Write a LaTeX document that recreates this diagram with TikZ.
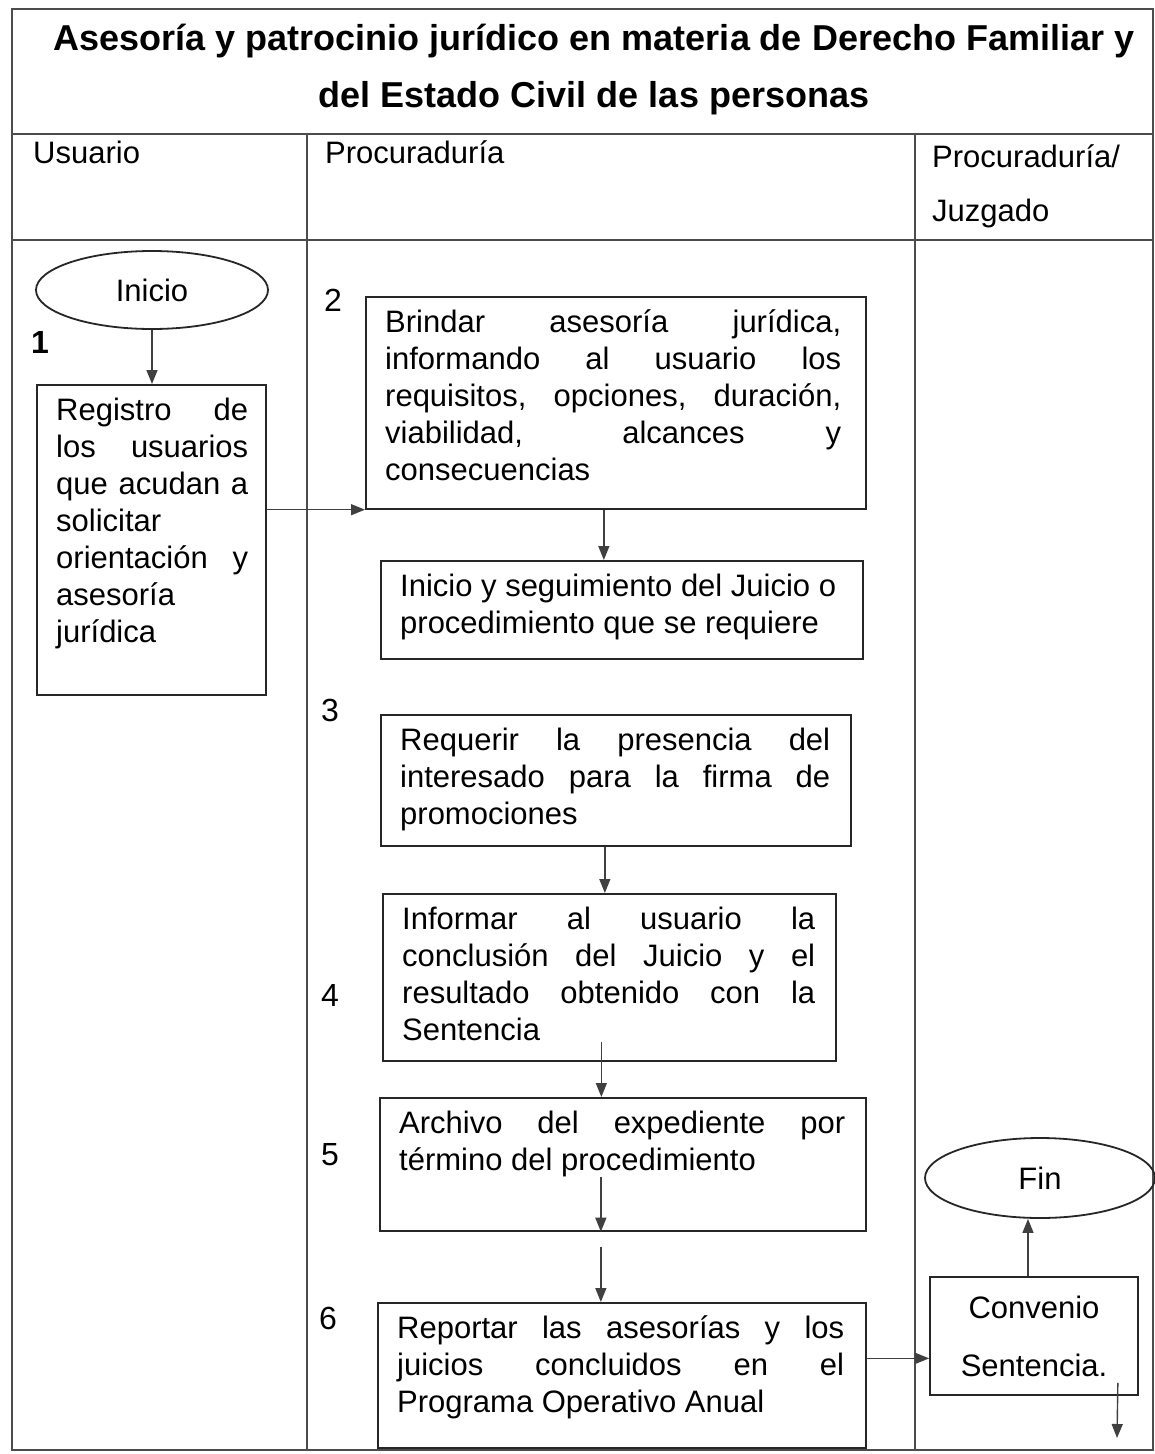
\documentclass[tikz,border=0pt]{standalone}
\usepackage{fontspec}
\setmainfont{Liberation Sans}
\usetikzlibrary{arrows.meta,shapes.geometric}

\def\fs{\fontsize{31}{37}\selectfont\tolerance=10000 }
\def\cajatexto#1#2#3{\node[texto, text width=#2] at ([shift={(20,10)}]#1.north west) {\strut #3};}

\begin{document}
\begin{tikzpicture}[x=1pt,y=-1pt,
    marco/.style={draw=black!70, line width=1.3pt},
    caja/.style={draw=black!85, line width=1.7pt, rectangle, anchor=north west, inner sep=0pt},
    texto/.style={anchor=north west, inner sep=0pt, align=justify, font=\fs},
    terminal/.style={draw=black!85, line width=1.8pt, ellipse, inner sep=0pt, font=\fs},
    num/.style={font=\fontsize{32}{37}\selectfont},
    flecha/.style={draw=black!75, line width=1.4pt, -{Triangle[length=14pt,width=11pt]}},
    ]
    \useasboundingbox (0,0) rectangle (1155,1454);

    % tabla
    \draw[marco] (12,9) rectangle (1153,1450);
    \draw[marco] (12,134) -- (1153,134);
    \draw[marco] (12,240) -- (1153,240);
    \draw[marco] (307,134) -- (307,1450);
    \draw[marco] (915,134) -- (915,1450);

    \node[font=\bfseries\fontsize{36}{57}\selectfont, align=center] (titulo) at (594,70)
        {Asesoría y patrocinio jurídico en materia de Derecho Familiar y\\del Estado Civil de las personas};
    \node[font=\fs, anchor=north west, inner sep=0pt] (usuario) at (33,137) {\strut Usuario};
    \node[font=\fs, anchor=north west, inner sep=0pt] (procu) at (325,137) {\strut Procuraduría};
    \node[font=\fontsize{31}{54}\selectfont, anchor=north west, inner sep=0pt, align=left] (juzgado) at (932,144)
        {Procuraduría/\\Juzgado};

    % inicio
    \node[terminal, minimum width=232pt, minimum height=78pt] (ini) at (152,290) {Inicio};
    \node[num, font=\bfseries\fontsize{32}{37}\selectfont] (n1) at (40,342) {1};
    \node[caja, minimum width=229pt, minimum height=310pt] (reg) at (36,384) {};
    \cajatexto{reg}{192pt}{Registro de\linebreak los usuarios\linebreak que acudan a\linebreak solicitar\newline orientación y\linebreak asesoría\newline jurídica}

    % procuraduria
    \node[num] (n2) at (333,300) {2};
    \node[caja, minimum width=500pt, minimum height=212pt] (bri) at (365,296) {};
    \cajatexto{bri}{456pt}{Brindar asesoría jurídica,\linebreak informando al usuario los\linebreak requisitos, opciones, duración,\linebreak viabilidad, alcances y\linebreak consecuencias}

    \node[caja, minimum width=482pt, minimum height=98pt] (seg) at (380,560) {};
    \cajatexto{seg}{450pt}{Inicio y seguimiento del Juicio o\newline procedimiento que se requiere}

    \node[num] (n3) at (330,710) {3};
    \node[caja, minimum width=470pt, minimum height=131pt] (req) at (380,714) {};
    \cajatexto{req}{430pt}{Requerir la presencia del\linebreak interesado para la firma de\linebreak promociones}

    \node[num] (n4) at (330,995) {4};
    \node[caja, minimum width=453pt, minimum height=167pt] (inf) at (382,893) {};
    \cajatexto{inf}{413pt}{Informar al usuario la\linebreak conclusión del Juicio y el\linebreak resultado obtenido con la\linebreak Sentencia}

    \node[num] (n5) at (330,1155) {5};
    \node[caja, minimum width=486pt, minimum height=133pt] (arc) at (379,1097) {};
    \cajatexto{arc}{446pt}{Archivo del expediente por\linebreak término del procedimiento}

    \node[num] (n6) at (328,1318) {6};
    \node[caja, minimum width=488pt, minimum height=145pt] (rep) at (377,1302) {};
    \cajatexto{rep}{447pt}{Reportar las asesorías y los\linebreak juicios concluidos en el\linebreak Programa Operativo Anual}

    % procuraduria / juzgado
    \node[caja, anchor=center, minimum width=208pt, minimum height=118pt, align=center,
        font=\fontsize{31}{58}\selectfont] (con) at (1034,1336) {Convenio\\Sentencia.};
    \node[terminal, minimum width=230pt, minimum height=80pt] (fin) at (1040,1178) {Fin};
    \coordinate (salida) at (1117,1438);

    % flechas
    \draw[flecha] (ini.south) -- (ini.south |- reg.north);
    \draw[flecha] (reg.east |- bri.south west) -- (bri.south west);
    \draw[flecha] ([xshift=-12pt]bri.south) -- ([xshift=-12pt]bri.south |- seg.north);
    \draw[flecha] ([xshift=-11pt]req.south) -- ([xshift=-11pt]req.south |- inf.north);
    \draw[flecha] ([shift={(-8,-20)}]inf.south) -- ([xshift=-8pt]inf.south |- arc.north);
    \draw[flecha] ([shift={(-22,-55)}]arc.south) -- ([xshift=-22pt]arc.south);
    \draw[flecha] ([shift={(-22,15)}]arc.south) -- ([xshift=-22pt]arc.south |- rep.north);
    \draw[flecha] ([yshift=17pt]rep.east) -- ([yshift=17pt]rep.east -| con.west);
    \draw[flecha] ([xshift=-6pt]con.north) -- ([xshift=-6pt]con.north |- fin.south);
    \draw[flecha] ([shift={(-21,-13)}]con.south east) -- (salida);
\end{tikzpicture}
\end{document}
